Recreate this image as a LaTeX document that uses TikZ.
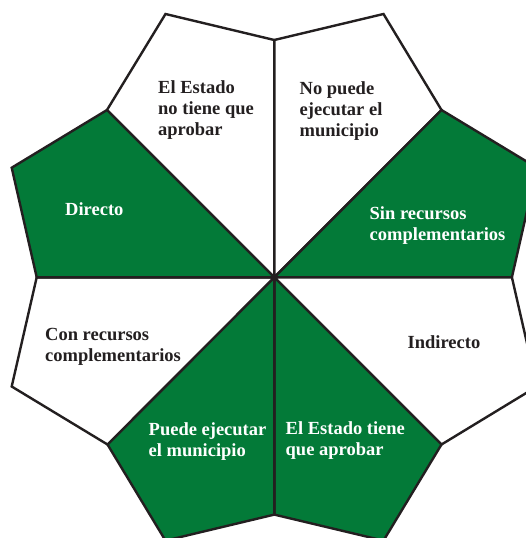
\documentclass[tikz,border=0pt]{standalone}
\usepackage{fontspec}
\setmainfont{Liberation Serif}
\definecolor{leafgreen}{RGB}{3,122,56}
\definecolor{inkdark}{RGB}{35,31,32}
\tikzset{
  sector/.style={draw=inkdark, line width=2.4pt, line join=miter},
  greensec/.style={sector, fill=leafgreen},
  whitesec/.style={sector, fill=white},
  lab/.style={anchor=base west, align=left, inner sep=0pt, font=\fontsize{18.5}{21}\selectfont\bfseries},
  darklab/.style={lab, text=inkdark},
  lightlab/.style={lab, text=white},
}
\begin{document}
\begin{tikzpicture}[x=1pt, y=-1pt]
\useasboundingbox (0,0) rectangle (526,538);
\clip (0,0) rectangle (526,538);
\coordinate (C) at (274.3,277.3);
\coordinate (T) at (274.3,40);
\coordinate (TL) at (165.5,14);
\coordinate (TR) at (383.5,14);
\coordinate (UL) at (107,110);
\coordinate (UR) at (441.5,110);
\coordinate (LU) at (11.7,167.7);
\coordinate (RU) at (536.9,167.7);
\coordinate (L) at (36.7,277.3);
\coordinate (R) at (511.9,277.3);
\coordinate (LD) at (11.7,386.5);
\coordinate (RD) at (536.9,386.5);
\coordinate (DL) at (107.5,444.5);
\coordinate (DR) at (441.5,444.5);
\coordinate (BL) at (165.5,540.6);
\coordinate (BR) at (383.5,540.6);
\coordinate (B) at (274.3,514.6);

\draw[whitesec] (C) -- (UL) -- (TL) -- (T) -- cycle;
\draw[whitesec] (C) -- (T) -- (TR) -- (UR) -- cycle;
\draw[greensec] (C) -- (UR) -- (RU) -- (R) -- cycle;
\draw[whitesec] (C) -- (R) -- (RD) -- (DR) -- cycle;
\draw[greensec] (C) -- (DR) -- (BR) -- (B) -- cycle;
\draw[greensec] (C) -- (B) -- (BL) -- (DL) -- cycle;
\draw[whitesec] (C) -- (DL) -- (LD) -- (L) -- cycle;
\draw[greensec] (C) -- (L) -- (LU) -- (UL) -- cycle;

% base anchor of a multi-line node is the baseline of its last line
\node[darklab] (t1) at (158,135.5) {El Estado\\no tiene que\\aprobar};
\node[darklab] (t2) at (299.5,136.5) {No puede\\ejecutar el\\municipio};
\node[lightlab] (t3) at (369.5,240.5) {Sin recursos\\complementarios};
\node[darklab] (t4) at (407.5,348) {Indirecto};
\node[lightlab] (t5) at (285.5,455) {El Estado tiene\\que aprobar};
\node[lightlab] (t6) at (148.5,456) {Puede ejecutar\\el municipio};
\node[darklab] (t7) at (45,361) {Con recursos\\complementarios};
\node[lightlab] (t8) at (65,215) {Directo};
\end{tikzpicture}
\end{document}
